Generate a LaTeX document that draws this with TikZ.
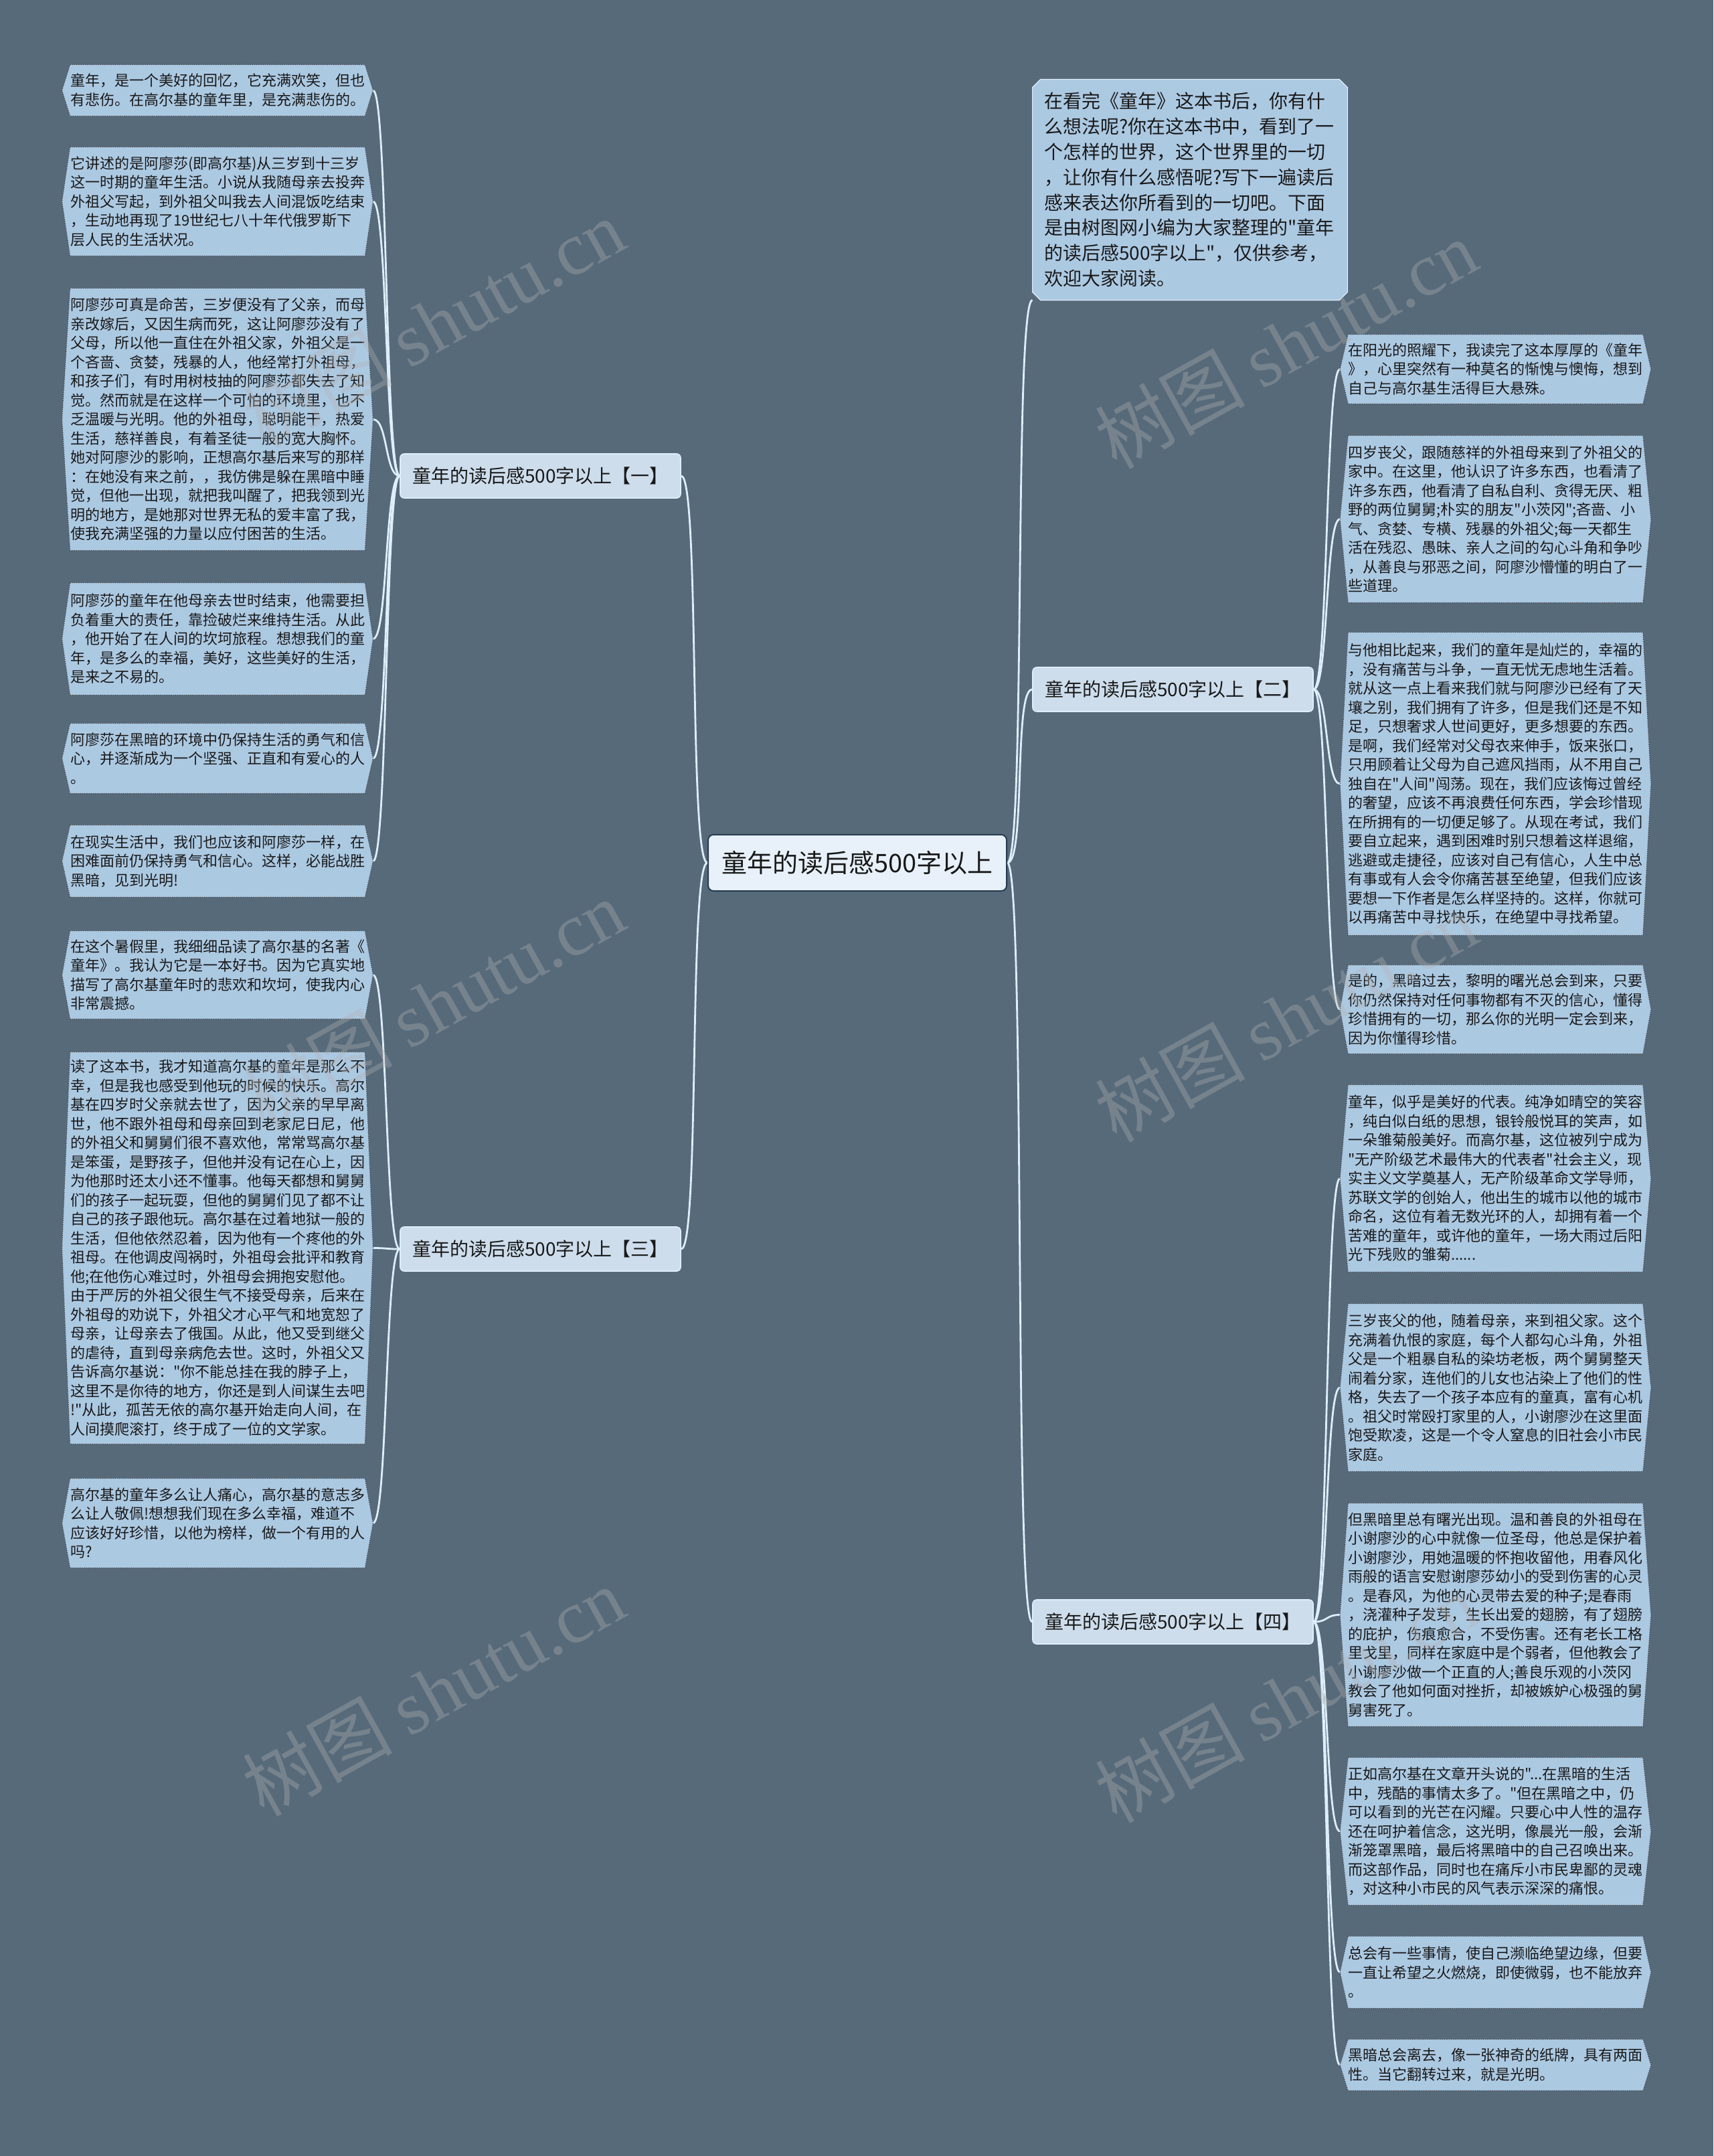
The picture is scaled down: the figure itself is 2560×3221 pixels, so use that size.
\documentclass[tikz,border=0pt]{standalone}
\usepackage{fontspec}
\setmainfont{Noto Sans CJK SC}
\newfontfamily\cjk{Noto Sans CJK SC}
\newfontfamily\wmfont{Liberation Serif}
\definecolor{bgc}{RGB}{87,106,122}
\definecolor{leafc}{RGB}{172,201,226}
\definecolor{linec}{RGB}{222,238,250}
\definecolor{txtc}{RGB}{25,25,25}
\definecolor{brc}{RGB}{205,221,236}
\definecolor{cenc}{RGB}{232,241,249}
\pgfdeclarelayer{bgl}
\pgfdeclarelayer{connl}
\pgfdeclarelayer{shpl}
\pgfdeclarelayer{fgl}
\pgfsetlayers{bgl,connl,shpl,main,fgl}
\begin{document}
\begin{tikzpicture}[x=0.5pt,y=-0.5pt,
  leaf/.style={text width=220pt, inner xsep=0pt, inner ysep=0pt, align=left, font=\cjk\fontsize{11pt}{14.25pt}\selectfont, text=txtc},
  leafshape/.style={fill=leafc, draw=black!75, densely dotted, line width=0.6pt},
  intro/.style={text width=218pt, inner xsep=8.5pt, inner ysep=0pt, minimum height=164.5pt, align=left, font=\cjk\fontsize{14pt}{18.9pt}\selectfont, text=txtc},
  introshape/.style={fill=leafc, draw=linec, line width=0.6pt},
  branch/.style={minimum width=209.5pt, minimum height=33pt, inner sep=0pt, rounded corners=3pt, fill=brc, draw=linec, line width=0.8pt, font=\cjk\fontsize{14pt}{17pt}\selectfont, text=txtc},
  rootnode/.style={minimum width=223pt, minimum height=42pt, inner sep=0pt, rounded corners=4pt, fill=cenc, draw={rgb,255:red,40;green,60;blue,80}, line width=1pt, font=\cjk\fontsize{19pt}{22pt}\selectfont, text=txtc},
  conn/.style={draw=linec, line width=1.4pt},
  wm/.style={text=gray!60, opacity=0.35, font=\cjk\fontsize{56pt}{60pt}\selectfont, inner sep=0pt}
]
\begin{pgfonlayer}{bgl}
\fill[bgc] (0,0) rectangle (2560,3221);
\end{pgfonlayer}
\useasboundingbox (0,0) rectangle (2560,3221);

% root and branches
\node[rootnode] (root) at (1281,1289) {童年的读后感500字以上};
\node[branch] (br1) at (807.5,711) {童年的读后感500字以上【一】};
\node[branch] (br3) at (807.5,1866) {童年的读后感500字以上【三】};
\node[branch] (br2) at (1752.5,1030) {童年的读后感500字以上【二】};
\node[branch] (br4) at (1752.5,2423) {童年的读后感500字以上【四】};

% intro
\node[intro] (intro) at (1778,283.5) {在看完《童年》这本书后，你有什\\么想法呢?你在这本书中，看到了一\\个怎样的世界，这个世界里的一切\\，让你有什么感悟呢?写下一遍读后\\感来表达你所看到的一切吧。下面\\是由树图网小编为大家整理的"童年\\的读后感500字以上"，仅供参考，\\欢迎大家阅读。};

% left leaves
\node[leaf, minimum height=38pt] (L1) at (325,135) {童年，是一个美好的回忆，它充满欢笑，但也\\有悲伤。在高尔基的童年里，是充满悲伤的。};
\node[leaf, minimum height=81pt] (L2) at (325,301) {它讲述的是阿廖莎(即高尔基)从三岁到十三岁\\这一时期的童年生活。小说从我随母亲去投奔\\外祖父写起，到外祖父叫我去人间混饭吃结束\\，生动地再现了19世纪七八十年代俄罗斯下\\层人民的生活状况。};
\node[leaf, minimum height=195.5pt] (L3) at (325,626.5) {阿廖莎可真是命苦，三岁便没有了父亲，而母\\亲改嫁后，又因生病而死，这让阿廖莎没有了\\父母，所以他一直住在外祖父家，外祖父是一\\个吝啬、贪婪，残暴的人，他经常打外祖母，\\和孩子们，有时用树枝抽的阿廖莎都失去了知\\觉。然而就是在这样一个可怕的环境里，也不\\乏温暖与光明。他的外祖母，聪明能干，热爱\\生活，慈祥善良，有着圣徒一般的宽大胸怀。\\她对阿廖沙的影响，正想高尔基后来写的那样\\：在她没有来之前，，我仿佛是躲在黑暗中睡\\觉，但他一出现，就把我叫醒了，把我领到光\\明的地方，是她那对世界无私的爱丰富了我，\\使我充满坚强的力量以应付困苦的生活。};
\node[leaf, minimum height=83.5pt] (L4) at (325,954.5) {阿廖莎的童年在他母亲去世时结束，他需要担\\负着重大的责任，靠捡破烂来维持生活。从此\\，他开始了在人间的坎坷旅程。想想我们的童\\年，是多么的幸福，美好，这些美好的生活，\\是来之不易的。};
\node[leaf, minimum height=52pt] (L5) at (325,1133) {阿廖莎在黑暗的环境中仍保持生活的勇气和信\\心，并逐渐成为一个坚强、正直和有爱心的人\\。};
\node[leaf, minimum height=53.5pt] (L6) at (325,1286.5) {在现实生活中，我们也应该和阿廖莎一样，在\\困难面前仍保持勇气和信心。这样，必能战胜\\黑暗，见到光明!};
\node[leaf, minimum height=65.5pt] (L7) at (325,1456.5) {在这个暑假里，我细细品读了高尔基的名著《\\童年》。我认为它是一本好书。因为它真实地\\描写了高尔基童年时的悲欢和坎坷，使我内心\\非常震撼。};
\node[leaf, minimum height=292.5pt] (L8) at (325,1864.5) {读了这本书，我才知道高尔基的童年是那么不\\幸，但是我也感受到他玩的时候的快乐。高尔\\基在四岁时父亲就去世了，因为父亲的早早离\\世，他不跟外祖母和母亲回到老家尼日尼，他\\的外祖父和舅舅们很不喜欢他，常常骂高尔基\\是笨蛋，是野孩子，但他并没有记在心上，因\\为他那时还太小还不懂事。他每天都想和舅舅\\们的孩子一起玩耍，但他的舅舅们见了都不让\\自己的孩子跟他玩。高尔基在过着地狱一般的\\生活，但他依然忍着，因为他有一个疼他的外\\祖母。在他调皮闯祸时，外祖母会批评和教育\\他;在他伤心难过时，外祖母会拥抱安慰他。\\由于严厉的外祖父很生气不接受母亲，后来在\\外祖母的劝说下，外祖父才心平气和地宽恕了\\母亲，让母亲去了俄国。从此，他又受到继父\\的虐待，直到母亲病危去世。这时，外祖父又\\告诉高尔基说："你不能总挂在我的脖子上，\\这里不是你待的地方，你还是到人间谋生去吧\\!"从此，孤苦无依的高尔基开始走向人间，在\\人间摸爬滚打，终于成了一位的文学家。};
\node[leaf, minimum height=66.5pt] (L9) at (325,2275.5) {高尔基的童年多么让人痛心，高尔基的意志多\\么让人敬佩!想想我们现在多么幸福，难道不\\应该好好珍惜，以他为榜样，做一个有用的人\\吗?};

% right leaves
\node[leaf, minimum height=51.5pt] (R1) at (2234.5,551.5) {在阳光的照耀下，我读完了这本厚厚的《童年\\》，心里突然有一种莫名的惭愧与懊悔，想到\\自己与高尔基生活得巨大悬殊。};
\node[leaf, minimum height=124.5pt] (R2) at (2234.5,775.5) {四岁丧父，跟随慈祥的外祖母来到了外祖父的\\家中。在这里，他认识了许多东西，也看清了\\许多东西，他看清了自私自利、贪得无厌、粗\\野的两位舅舅;朴实的朋友"小茨冈";吝啬、小\\气、贪婪、专横、残暴的外祖父;每一天都生\\活在残忍、愚昧、亲人之间的勾心斗角和争吵\\，从善良与邪恶之间，阿廖沙懵懂的明白了一\\些道理。};
\node[leaf, minimum height=226pt] (R3) at (2234.5,1171) {与他相比起来，我们的童年是灿烂的，幸福的\\，没有痛苦与斗争，一直无忧无虑地生活着。\\就从这一点上看来我们就与阿廖沙已经有了天\\壤之别，我们拥有了许多，但是我们还是不知\\足，只想奢求人世间更好，更多想要的东西。\\是啊，我们经常对父母衣来伸手，饭来张口，\\只用顾着让父母为自己遮风挡雨，从不用自己\\独自在"人间"闯荡。现在，我们应该悔过曾经\\的奢望，应该不再浪费任何东西，学会珍惜现\\在所拥有的一切便足够了。从现在考试，我们\\要自立起来，遇到困难时别只想着这样退缩，\\逃避或走捷径，应该对自己有信心，人生中总\\有事或有人会令你痛苦甚至绝望，但我们应该\\要想一下作者是怎么样坚持的。这样，你就可\\以再痛苦中寻找快乐，在绝望中寻找希望。};
\node[leaf, minimum height=66pt] (R4) at (2234.5,1508) {是的，黑暗过去，黎明的曙光总会到来，只要\\你仍然保持对任何事物都有不灭的信心，懂得\\珍惜拥有的一切，那么你的光明一定会到来，\\因为你懂得珍惜。};
\node[leaf, minimum height=139.5pt] (R5) at (2234.5,1760.5) {童年，似乎是美好的代表。纯净如晴空的笑容\\，纯白似白纸的思想，银铃般悦耳的笑声，如\\一朵雏菊般美好。而高尔基，这位被列宁成为\\"无产阶级艺术最伟大的代表者"社会主义，现\\实主义文学奠基人，无产阶级革命文学导师，\\苏联文学的创始人，他出生的城市以他的城市\\命名，这位有着无数光环的人，却拥有着一个\\苦难的童年，或许他的童年，一场大雨过后阳\\光下残败的雏菊......};
\node[leaf, minimum height=125pt] (R6) at (2234.5,2073) {三岁丧父的他，随着母亲，来到祖父家。这个\\充满着仇恨的家庭，每个人都勾心斗角，外祖\\父是一个粗暴自私的染坊老板，两个舅舅整天\\闹着分家，连他们的儿女也沾染上了他们的性\\格，失去了一个孩子本应有的童真，富有心机\\。祖父时常殴打家里的人，小谢廖沙在这里面\\饱受欺凌，这是一个令人窒息的旧社会小市民\\家庭。};
\node[leaf, minimum height=166.5pt] (R7) at (2234.5,2412.5) {但黑暗里总有曙光出现。温和善良的外祖母在\\小谢廖沙的心中就像一位圣母，他总是保护着\\小谢廖沙，用她温暖的怀抱收留他，用春风化\\雨般的语言安慰谢廖莎幼小的受到伤害的心灵\\。是春风，为他的心灵带去爱的种子;是春雨\\，浇灌种子发芽，生长出爱的翅膀，有了翅膀\\的庇护，伤痕愈合，不受伤害。还有老长工格\\里戈里，同样在家庭中是个弱者，但他教会了\\小谢廖沙做一个正直的人;善良乐观的小茨冈\\教会了他如何面对挫折，却被嫉妒心极强的舅\\舅害死了。};
\node[leaf, minimum height=110pt] (R8) at (2234.5,2736) {正如高尔基在文章开头说的"...在黑暗的生活\\中，残酷的事情太多了。"但在黑暗之中，仍\\可以看到的光芒在闪耀。只要心中人性的温存\\还在呵护着信念，这光明，像晨光一般，会渐\\渐笼罩黑暗，最后将黑暗中的自己召唤出来。\\而这部作品，同时也在痛斥小市民卑鄙的灵魂\\，对这种小市民的风气表示深深的痛恨。};
\node[leaf, minimum height=53.5pt] (R9) at (2234.5,2946.5) {总会有一些事情，使自己濒临绝望边缘，但要\\一直让希望之火燃烧，即使微弱，也不能放弃\\。};
\node[leaf, minimum height=38pt] (R10) at (2234.5,3085) {黑暗总会离去，像一张神奇的纸牌，具有两面\\性。当它翻转过来，就是光明。};

% shapes behind text
\begin{pgfonlayer}{shpl}
\foreach \n in {L1,L2,L3,L4,L5,L6,L7,L8,L9,R1,R2,R3,R4,R5,R6,R7,R8,R9,R10}
  \path[leafshape] (\n.north west) -- (\n.north east) -- ([xshift=6pt]\n.east) -- (\n.south east) -- (\n.south west) -- ([xshift=-6pt]\n.west) -- cycle;
\path[introshape] ([xshift=6pt]intro.north west) -- ([xshift=-6pt]intro.north east) -- ([yshift=-6pt]intro.north east) -- ([yshift=6pt]intro.south east) -- ([xshift=-6pt]intro.south east) -- ([xshift=6pt]intro.south west) -- ([yshift=6pt]intro.south west) -- ([yshift=-6pt]intro.north west) -- cycle;
\end{pgfonlayer}

% connectors
\begin{pgfonlayer}{connl}
\draw[conn] (root.west) .. controls +(-28,0) and +(28,0) .. (br1.east);
\draw[conn] (root.west) .. controls +(-28,0) and +(28,0) .. (br3.east);
\draw[conn] (root.east) .. controls +(28,0) and +(-28,0) .. (intro.south west);
\draw[conn] (root.east) .. controls +(28,0) and +(-28,0) .. (br2.west);
\draw[conn] (root.east) .. controls +(28,0) and +(-28,0) .. (br4.west);
\foreach \pa/\ch in {br1/L1,br1/L2,br1/L3,br1/L4,br1/L5,br1/L6,br3/L7,br3/L8,br3/L9}
  \draw[conn] (\pa.west) .. controls +(-22,0) and +(22,0) .. ([xshift=6pt]\ch.east);
\foreach \pa/\ch in {br2/R1,br2/R2,br2/R3,br2/R4,br4/R5,br4/R6,br4/R7,br4/R8,br4/R9,br4/R10}
  \draw[conn] (\pa.east) .. controls +(22,0) and +(-22,0) .. ([xshift=-6pt]\ch.west);
\end{pgfonlayer}

% watermarks
\begin{pgfonlayer}{fgl}
\node[wm, rotate=29] (w1) at (647,483) {树图 {\wmfont shutu.cn}};
\node[wm, rotate=29] (w2) at (647,1500) {树图 {\wmfont shutu.cn}};
\node[wm, rotate=29] (w3) at (647,2527) {树图 {\wmfont shutu.cn}};
\node[wm, rotate=29] (w4) at (1921,514) {树图 {\wmfont shutu.cn}};
\node[wm, rotate=29] (w5) at (1921,1520) {树图 {\wmfont shutu.cn}};
\node[wm, rotate=29] (w6) at (1921,2537) {树图 {\wmfont shutu.cn}};
\end{pgfonlayer}
\end{tikzpicture}
\end{document}
